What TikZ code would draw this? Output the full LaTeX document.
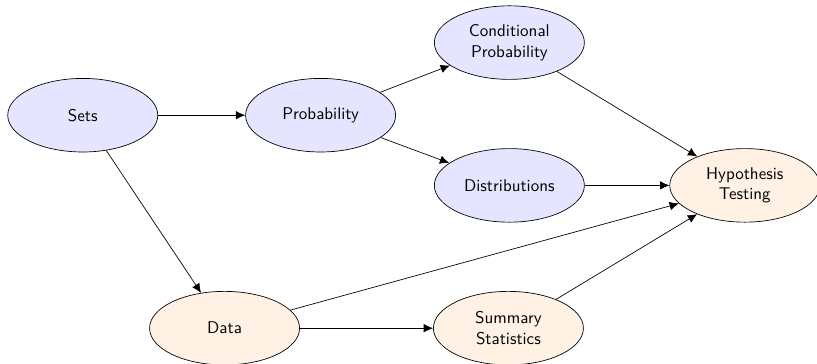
\documentclass[tikz,border=0pt]{standalone}
\usepackage{tikz}
\usetikzlibrary{arrows.meta, positioning, shapes.geometric}

\begin{document}
\begin{tikzpicture}[
    node distance=1.8cm,
    topic/.style={draw, ellipse, align=center, font=\sffamily, minimum height=1.52cm, minimum width=3.1cm, fill=blue!10},
    applied/.style={draw, ellipse, align=center, font=\sffamily, minimum height=1.52cm, minimum width=3.1cm, fill=orange!10},
    arrow/.style={-{Latex[length=5.5pt, width=5pt]}}
]
\useasboundingbox (0,0) rectangle (16.88,-7.52);
\node[topic] (sets) at (1.71,-2.38) {Sets};
\node[topic, right=of sets] (probability) {Probability};
\node[topic] (conditional) at ([shift={(3.9,1.5)}]probability) {Conditional\\Probability};
\node[topic] (distributions) at ([shift={(3.9,-1.45)}]probability) {Distributions};
\node[applied, right=1.75cm of distributions] (hypothesis) {Hypothesis\\Testing};
\node[applied] (data) at ([shift={(2.93,-4.4)}]sets) {Data};
\node[applied, right=2.75cm of data] (summary) {Summary\\Statistics};

\draw[arrow] (sets) -- (probability);
\draw[arrow] (sets) -- (data);
\draw[arrow] (probability) -- (conditional);
\draw[arrow] (probability) -- (distributions);
\draw[arrow] (conditional) -- (hypothesis);
\draw[arrow] (distributions) -- (hypothesis);
\draw[arrow] (data) -- (hypothesis);
\draw[arrow] (data) -- (summary);
\draw[arrow] (summary) -- (hypothesis);
\end{tikzpicture}
\end{document}
